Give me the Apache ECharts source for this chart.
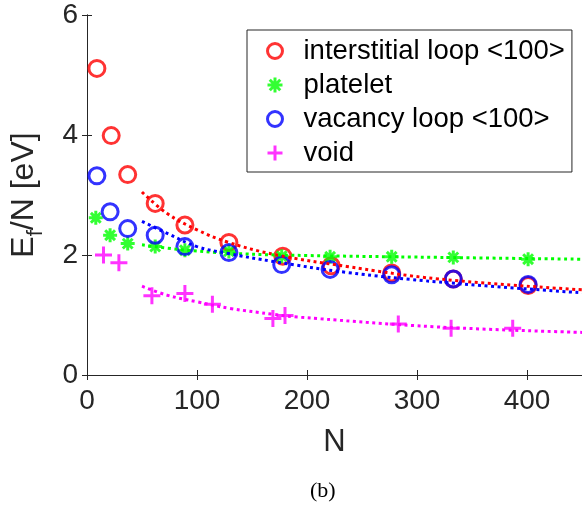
<!DOCTYPE html>
<html>
<head>
<meta charset="utf-8">
<script src="https://cdn.jsdelivr.net/npm/echarts@6/dist/echarts.min.js"></script>
<style>
  html, body { margin: 0; padding: 0; background: #fff; }
  #chart { width: 582px; height: 509px; }
</style>
</head>
<body>
<div id="chart"></div>
<script>
// 数据点
const loopN = [9, 22, 37, 62, 89, 129, 178, 222, 277, 333, 401];
const loopE = [5.11, 3.99, 3.34, 2.86, 2.50, 2.21, 1.98, 1.82, 1.70, 1.60, 1.49];
const plateN = [8, 21, 37, 62, 89, 129, 177, 221, 277, 333, 401];
const plateE = [2.62, 2.33, 2.19, 2.14, 2.08, 2.06, 1.98, 1.97, 1.97, 1.96, 1.93];
const vacN = [9, 21, 37, 62, 89, 129, 177, 221, 277, 333, 401];
const vacE = [3.32, 2.72, 2.44, 2.33, 2.14, 2.04, 1.84, 1.76, 1.67, 1.60, 1.51];
const voidN = [15, 29, 59, 89, 114, 169, 180, 283, 331, 387];
const voidE = [2.00, 1.87, 1.32, 1.36, 1.18, 0.94, 0.99, 0.85, 0.78, 0.78];

// 拟合曲线
const loopFitN = [50, 73, 100, 127, 170, 236, 320, 450];
const loopFitE = [3.05, 2.69, 2.42, 2.22, 2.01, 1.81, 1.60, 1.42];
const plateFitN = [50, 85, 130, 175, 320, 450];
const plateFitE = [2.17, 2.09, 2.03, 2.00, 1.96, 1.93];
const vacFitN = [50, 73, 100, 127, 170, 236, 320, 450];
const vacFitE = [2.56, 2.36, 2.14, 2.03, 1.89, 1.71, 1.55, 1.37];
const voidFitN = [50, 73, 100, 130, 170, 188, 320, 450];
const voidFitE = [1.48, 1.33, 1.22, 1.11, 1.01, 0.97, 0.80, 0.71];

const names = ['interstitial loop <100>', 'platelet', 'vacancy loop <100>', 'void'];
const colors = ['#ff0000', '#00ff00', '#0000ff', '#ff00ff'];

const axisColor = '#262626';
const font = 'Liberation Sans, Arial, sans-serif';

const zip = (xs, ys) => xs.map((x, i) => [x, ys[i]]);

const asterisk = 'path://M-1,0L1,0M0,-1L0,1M-0.7,-0.7L0.7,0.7M-0.7,0.7L0.7,-0.7';
const plus = 'path://M-1,0L1,0M0,-1L0,1';

function scatter(i, xs, ys, symbol, size, bw) {
  return {
    name: names[i],
    type: 'scatter',
    data: zip(xs, ys),
    symbol: symbol,
    symbolSize: size,
    itemStyle: { color: 'rgba(0,0,0,0)', borderColor: colors[i], borderWidth: bw },
    z: 3
  };
}

function fit(i, xs, ys) {
  return {
    type: 'line',
    data: zip(xs, ys),
    smooth: 0.4,
    showSymbol: false,
    lineStyle: { color: colors[i], width: 3, type: [3, 3.5] },
    silent: true,
    z: 4
  };
}

const chart = echarts.init(document.getElementById('chart'));

chart.setOption({
  animation: false,
  grid: { left: 86, top: 15, width: 497, height: 360, containLabel: false },
  legend: {
    data: names,
    orient: 'vertical',
    left: 247,
    top: 30,
    padding: [7, 7, 5, 19],
    itemWidth: 15,
    itemHeight: 15,
    itemGap: 6,
    itemStyle: { borderWidth: 3 },
    borderColor: axisColor,
    borderWidth: 1,
    backgroundColor: '#fff',
    textStyle: { fontFamily: font, fontSize: 27.5, color: '#000', lineHeight: 27, padding: [0, 0, 0, 16] }
  },
  xAxis: [{
    type: 'value',
    min: 0,
    max: 450,
    interval: 100,
    name: 'N',
    nameLocation: 'middle',
    nameGap: 52,
    nameTextStyle: { fontFamily: font, fontSize: 31, color: axisColor },
    axisLine: { lineStyle: { color: axisColor, width: 1 } },
    axisTick: { inside: true, length: 5, lineStyle: { color: axisColor } },
    axisLabel: { fontFamily: font, fontSize: 28, color: axisColor, margin: 12, showMaxLabel: false },
    splitLine: { show: false }
  }, {
    type: 'value',
    position: 'top',
    min: 0,
    max: 450,
    interval: 100,
    axisLine: { lineStyle: { color: axisColor, width: 1 } },
    axisTick: { inside: true, length: 5, lineStyle: { color: axisColor } },
    axisLabel: { show: false },
    splitLine: { show: false }
  }],
  yAxis: [{
    type: 'value',
    min: 0,
    max: 6,
    interval: 2,
    name: '{a|E}{s|f}{a|/N [eV]}',
    nameLocation: 'middle',
    nameGap: 40,
    nameRotate: 90,
    nameTextStyle: {
      rich: {
        a: { fontFamily: font, fontSize: 32, color: axisColor, verticalAlign: 'bottom', padding: [0, 0, 7, 0] },
        s: { fontFamily: font, fontSize: 22, color: axisColor, verticalAlign: 'bottom' }
      }
    },
    axisLine: { lineStyle: { color: axisColor, width: 1 } },
    axisTick: { inside: true, length: 5, lineStyle: { color: axisColor } },
    axisLabel: { fontFamily: font, fontSize: 28, color: axisColor, margin: 9 },
    splitLine: { show: false }
  }, {
    type: 'value',
    position: 'right',
    min: 0,
    max: 6,
    interval: 2,
    axisLine: { lineStyle: { color: axisColor, width: 1 } },
    axisTick: { inside: true, length: 5, lineStyle: { color: axisColor } },
    axisLabel: { show: false },
    splitLine: { show: false }
  }],
  graphic: [{
    type: 'text',
    left: 310,
    top: 480,
    style: { text: '(b)', fontFamily: 'Liberation Serif, Times New Roman, serif', fontSize: 22, fill: '#000' }
  }],
  series: [
    scatter(0, loopN, loopE, 'circle', 16, 3),
    scatter(1, plateN, plateE, asterisk, 14, 3),
    scatter(2, vacN, vacE, 'circle', 16, 3),
    scatter(3, voidN, voidE, plus, 17, 3),
    fit(0, loopFitN, loopFitE),
    fit(1, plateFitN, plateFitE),
    fit(2, vacFitN, vacFitE),
    fit(3, voidFitN, voidFitE)
  ]
});
</script>
</body>
</html>
